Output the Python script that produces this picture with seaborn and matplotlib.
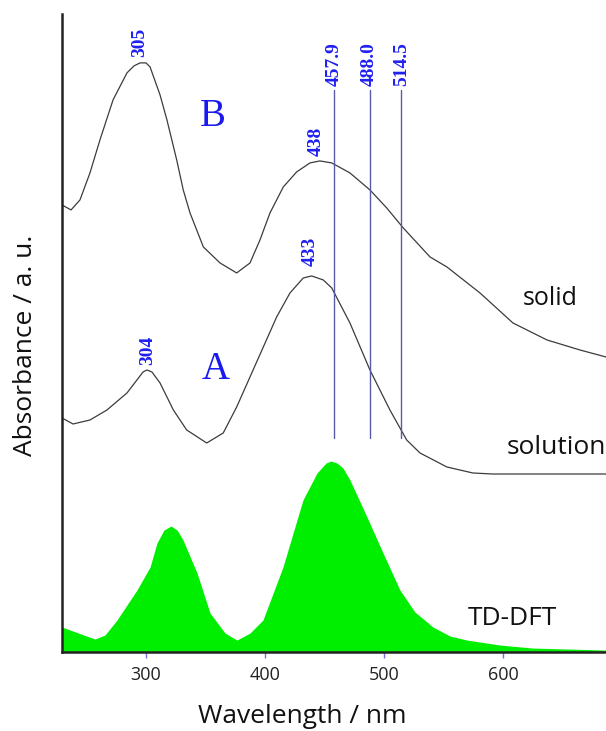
import numpy as np
import pandas as pd
import matplotlib
matplotlib.use('Agg')
import matplotlib.pyplot as plt
import seaborn as sns

# spectrum B, solid state
solid_nm = [229.4, 237.0, 244.5, 252.9, 261.3, 272.3, 284.0, 289.9, 295.0, 300.0, 303.4, 311.8,
            317.6, 325.8, 331.3, 337.0, 348.2, 362.2, 376.2, 387.4, 395.8, 404.2, 415.4, 426.6,
            437.8, 446.2, 456.1, 471.4, 488.2, 502.3, 516.2, 538.7, 552.9, 580.7, 608.4, 637.0,
            664.7, 686.6]
solid_abs = [4.47, 4.42, 4.52, 4.79, 5.12, 5.52, 5.79, 5.86, 5.89, 5.89, 5.85, 5.57,
             5.32, 4.92, 4.62, 4.39, 4.05, 3.89, 3.79, 3.89, 4.12, 4.39, 4.65, 4.80,
             4.89, 4.91, 4.89, 4.79, 4.62, 4.44, 4.24, 3.95, 3.85, 3.59, 3.29, 3.12,
             3.02, 2.95]

# spectrum A, solution
sol_nm = [229.4, 238.7, 252.9, 267.2, 284.0, 292.4, 297.5, 300.8, 305.0, 311.8, 323.0, 334.2,
          351.0, 364.9, 376.2, 387.4, 398.6, 409.8, 421.0, 432.2, 439.2, 449.0, 456.1, 471.4,
          488.2, 505.0, 519.1, 530.3, 552.9, 574.8, 591.6, 686.6]
sol_abs = [2.34, 2.28, 2.32, 2.42, 2.59, 2.72, 2.80, 2.82, 2.80, 2.69, 2.42, 2.22,
           2.09, 2.19, 2.45, 2.75, 3.05, 3.35, 3.59, 3.74, 3.76, 3.72, 3.64, 3.29,
           2.82, 2.42, 2.12, 1.99, 1.85, 1.79, 1.78, 1.78]

# TD-DFT calculated spectrum
dft_nm = [229.4, 257.1, 265.5, 275.6, 292.4, 303.4, 309.2, 315.1, 321.0, 326.1, 331.1, 342.9,
          353.8, 366.4, 376.5, 387.4, 398.3, 415.1, 431.9, 443.7, 451.3, 455.5, 460.5, 465.5,
          471.4, 485.7, 499.2, 513.4, 526.0, 541.2, 555.5, 569.7, 597.5, 625.2, 686.6]
dft_abs = [0.25, 0.13, 0.17, 0.32, 0.62, 0.85, 1.09, 1.22, 1.26, 1.22, 1.12, 0.79,
           0.39, 0.19, 0.12, 0.19, 0.32, 0.85, 1.52, 1.79, 1.89, 1.91, 1.89, 1.84,
           1.72, 1.35, 0.99, 0.62, 0.40, 0.25, 0.16, 0.12, 0.07, 0.04, 0.02]

# laser lines
laser_nm = [457.9, 488.0, 514.5]
laser_labels = ['457.9', '488.0', '514.5']

# peak annotations
peak_nm = [295.0, 443.0, 301.7, 438.0]
peak_abs = [5.95, 4.96, 2.87, 3.86]
peak_labels = ['305', '438', '304', '433']

sns.set_style('ticks')
plt.rcParams['font.family'] = ['Open Sans', 'DejaVu Sans']

fig = plt.figure(figsize=(6.06, 7.31), dpi=100)
ax = fig.add_axes([0.1023, 0.108, 0.8977, 0.873])

line_col = '#3c3c3c'
sns.lineplot(x=solid_nm, y=solid_abs, ax=ax, color=line_col, lw=0.9)
sns.lineplot(x=sol_nm, y=sol_abs, ax=ax, color=line_col, lw=0.9)
ax.fill_between(dft_nm, 0, dft_abs, color='#00ee00', lw=0)

lab_font = dict(rotation=90, ha='center', va='bottom', color='#2020f0',
                fontsize=14, family='Liberation Serif', fontweight='bold')
for nm, lab in zip(laser_nm, laser_labels):
    ax.plot([nm, nm], [2.14, 5.62], color='#5a5aa8', lw=1)
    ax.text(nm, 5.66, lab, **lab_font)

for nm, a, lab in zip(peak_nm, peak_abs, peak_labels):
    ax.text(nm, a, lab, **lab_font)

ax.text(356.3, 5.35, 'B', color='#1a1aee', fontsize=28, family='Liberation Serif',
        ha='center', va='center')
ax.text(358.8, 2.82, 'A', color='#1a1aee', fontsize=28, family='Liberation Serif',
        ha='center', va='center')
ax.text(639.5, 3.53, 'solid', fontsize=18, ha='center', va='center', color='#111111')
ax.text(603.0, 2.04, 'solution', fontsize=19, ha='left', va='center', color='#111111')
ax.text(607.6, 0.34, 'TD-DFT', fontsize=19, ha='center', va='center', color='#111111')

ax.set_xlim(229.4, 686.6)
ax.set_ylim(0, 6.38)
ax.set_xticks([300, 400, 500, 600])
ax.set_yticks([])
ax.tick_params(axis='x', colors='#7070e0', length=4, width=1, labelsize=13,
               labelcolor='#222222', pad=6)
sns.despine(ax=ax)
for side in ['left', 'bottom']:
    ax.spines[side].set_linewidth(1.8)
    ax.spines[side].set_color('#222222')

ax.set_xlabel('Wavelength / nm', fontsize=19, color='#111111')
ax.set_ylabel('Absorbance / a. u.', fontsize=19, color='#111111')
ax.xaxis.set_label_coords(0.441, -0.082)
ax.yaxis.set_label_coords(-0.045, 0.48)

fig.savefig('out.png', dpi=100)
